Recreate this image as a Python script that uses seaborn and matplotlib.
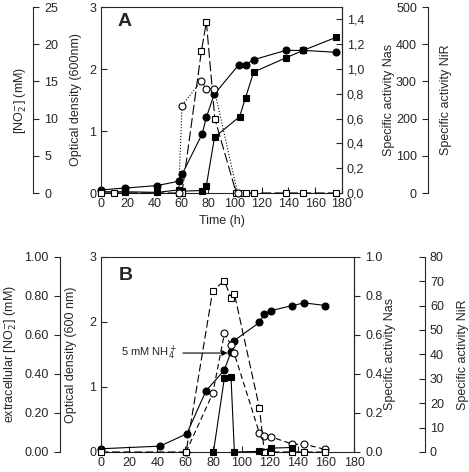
import matplotlib
matplotlib.use("Agg")
import matplotlib.pyplot as plt
from matplotlib.ticker import FuncFormatter
import seaborn as sns
import pandas as pd

# ---- panel A data ----
a_od_t = [0, 18, 42, 58, 60.5, 75.5, 78.7, 84.5, 103, 108, 114, 138, 151, 175.5]
a_od = [0.05, 0.08, 0.12, 0.19, 0.30, 0.95, 1.22, 1.59, 2.07, 2.07, 2.15, 2.30, 2.30, 2.27]
a_nas_t = [0, 18, 42, 58, 60.7, 75.5, 78.7, 84.8, 103.5, 108, 114, 138, 151, 175.5]
a_nas = [0.01, 0.01, 0.005, 0.025, 0.015, 0.02, 0.06, 0.45, 0.615, 0.77, 0.975, 1.09, 1.15, 1.255]
a_nir_t = [0, 9.5, 58, 60.5, 75, 78.7, 85, 101, 103.5, 108, 114, 138, 151, 175.5]
a_nir = [0, 0, 0, 0, 382, 460, 200, 0, 0, 0, 0, 0, 0, 0]
a_no2_t = [58, 60.5, 75, 78.7, 84.5, 102]
a_no2 = [0, 11.75, 15.1, 14.0, 14.0, 0]

# ---- panel B data ----
b_od_t = [0, 42, 61, 74.7, 87.8, 92.5, 94.7, 112.7, 116.2, 120.8, 136.2, 144.7, 159.7]
b_od = [0.05, 0.09, 0.28, 0.94, 1.26, 1.54, 1.71, 1.99, 2.12, 2.17, 2.25, 2.29, 2.25]
b_nir_t = [0, 60.5, 79.5, 87.8, 92.5, 94.9, 112.7, 116.2, 120.8, 136.2, 144.7, 159.7]
b_nir = [0, 0, 66.1, 70.1, 63.2, 64.8, 18.1, 0, 0, 0, 0, 0]
b_nas_t = [60.5, 79.5, 87.8, 92.5, 94.7, 112.7, 116.2, 120.8, 136.2, 144.7, 159.7]
b_nas = [0, 0.30, 0.607, 0.55, 0.507, 0.097, 0.083, 0.078, 0.04, 0.04, 0.013]
b_no2_t = [80, 87.8, 92.5, 94.9, 112.7, 120.8, 136.2]
b_no2 = [0, 0.38, 0.383, 0, 0.003, 0.02, 0.023]

sns.set_style("ticks")
plt.rcParams["font.family"] = ["Liberation Sans", "DejaVu Sans"]
plt.rcParams["font.size"] = 9
plt.rcParams["xtick.direction"] = "in"
plt.rcParams["ytick.direction"] = "in"
plt.rcParams["axes.linewidth"] = 0.8
plt.rcParams["xtick.major.size"] = 4
plt.rcParams["ytick.major.size"] = 4.5

fig = plt.figure(figsize=(4.69, 4.72), dpi=100)


def series(ax, t, v, marker, fill, ls):
    df = pd.DataFrame({"t": t, "v": v})
    sns.lineplot(data=df, x="t", y="v", ax=ax, color="black", marker=marker,
                 markersize=5, markerfacecolor=fill, markeredgecolor="black",
                 markeredgewidth=0.8, linewidth=0.8, linestyle=ls, clip_on=False)
    ax.set_xlabel("")
    ax.set_ylabel("")


def side_axis(ax, pos, side, direction):
    # extra y axis: only spine `side`, moved to `pos`
    tw = ax.twinx()
    for s in tw.spines.values():
        s.set_visible(False)
    tw.spines[side].set_visible(True)
    tw.spines[side].set_position(("axes", pos))
    tw.yaxis.set_ticks_position(side)
    tw.tick_params(axis="y", direction=direction)
    return tw


def ylab(ax, text, lx, lside):
    ax.yaxis.set_label_position(lside)
    ax.set_ylabel(text)
    ax.yaxis.set_label_coords(lx, 0.5)


# ---------------- panel A ----------------
axA = fig.add_axes([101 / 469, 1 - 193 / 472, 241 / 469, 186 / 472])
nasA = side_axis(axA, 1.0, "right", "in")
nirA = side_axis(axA, 1.357, "left", "out")
no2A = side_axis(axA, -0.282, "right", "out")

series(axA, a_od_t, a_od, "o", "black", "-")
series(nasA, a_nas_t, a_nas, "s", "black", "-")
series(nirA, a_nir_t, a_nir, "s", "white", (0, (9, 3)))
series(no2A, a_no2_t, a_no2, "o", "white", ":")

axA.set_xlim(0, 180)
axA.set_xticks(range(0, 181, 20))
axA.set_ylim(0, 3)
axA.set_yticks([0, 1, 2, 3])
axA.set_xlabel("Time (h)")
ylab(axA, "Optical density (600nm)", -0.079, "left")
axA.text(0.07, 0.9, "A", transform=axA.transAxes, fontsize=14, fontweight="bold")

nasA.set_ylim(0, 1.5)
nasA.set_yticks([0, 0.2, 0.4, 0.6, 0.8, 1.0, 1.2, 1.4])
nasA.yaxis.set_major_formatter(FuncFormatter(lambda v, _: f"{v:.1f}".replace(".", ",")))
ylab(nasA, "Specific activity Nas", 1.17, "right")
nirA.set_ylim(0, 500)
nirA.set_yticks(range(0, 501, 100))
ylab(nirA, "Specific activity NiR", 1.407, "right")
no2A.set_ylim(0, 25)
no2A.set_yticks(range(0, 26, 5))
ylab(no2A, r"[NO$_2^{-}$] (mM)", -0.299, "left")

# ---------------- panel B ----------------
axB = fig.add_axes([101 / 469, 1 - 452 / 472, 253 / 469, 195.3 / 472])
nasB = side_axis(axB, 1.0, "right", "out")
nirB = side_axis(axB, 1.281, "right", "in")
no2B = side_axis(axB, -0.162, "left", "out")

series(axB, b_od_t, b_od, "o", "black", "-")
series(no2B, b_no2_t, b_no2, "s", "black", "-")
series(nirB, b_nir_t, b_nir, "s", "white", (0, (7, 3)))
series(nasB, b_nas_t, b_nas, "o", "white", (0, (5, 3)))

axB.set_xlim(0, 180)
axB.set_xticks(range(0, 181, 20))
axB.set_ylim(0, 3)
axB.set_yticks([0, 1, 2, 3])
ylab(axB, "Optical density (600 nm)", -0.095, "left")
axB.text(0.07, 0.88, "B", transform=axB.transAxes, fontsize=14, fontweight="bold")
axB.annotate(r"5 mM NH$_4^+$", xy=(92, 1.52), xytext=(54, 1.52),
             ha="right", va="center", fontsize=8,
             arrowprops=dict(arrowstyle="-|>", color="black", lw=0.8))

nasB.set_ylim(0, 1.0)
nasB.set_yticks([0, 0.2, 0.4, 0.6, 0.8, 1.0])
ylab(nasB, "Specific activity Nas", 1.119, "right")
nirB.set_ylim(0, 80)
nirB.set_yticks(range(0, 81, 10))
ylab(nirB, "Specific activity NiR", 1.407, "right")
no2B.set_ylim(0, 1.0)
no2B.set_yticks([0, 0.2, 0.4, 0.6, 0.8, 1.0])
no2B.yaxis.set_major_formatter(FuncFormatter(lambda v, _: f"{v:.2f}"))
ylab(no2B, r"extracellular [NO$_2^{-}$] (mM)", -0.325, "left")

fig.savefig("out.png", dpi=100)
